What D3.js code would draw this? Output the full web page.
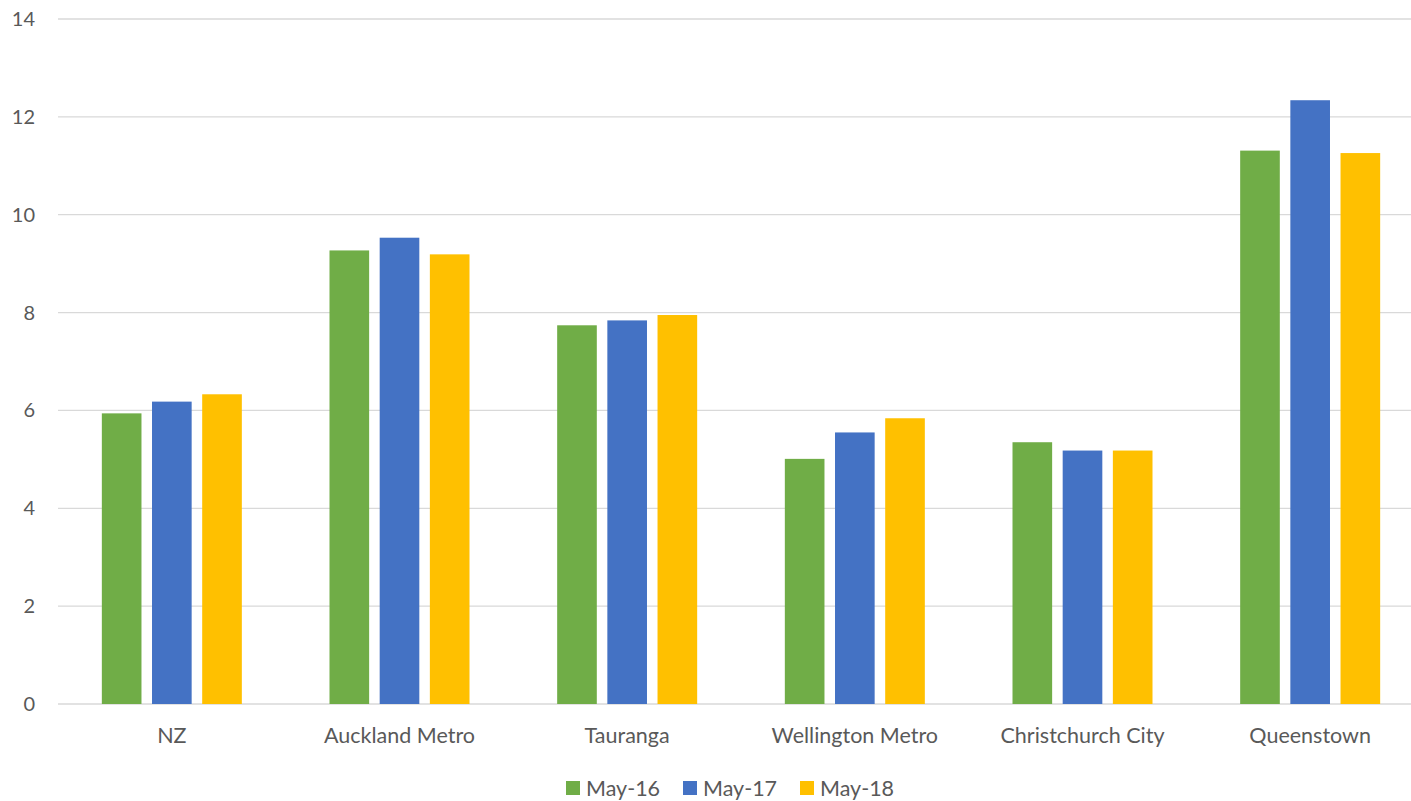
<!DOCTYPE html>
<html>
<head>
<meta charset="utf-8">
<script src="https://cdn.jsdelivr.net/npm/d3@7"></script>
<style>
    html, body { margin: 0; padding: 0; background: #fff; overflow: hidden; }
    svg { display: block; font-family: Lato, "Open Sans", sans-serif; }
</style>
</head>
<body>
<div id="chart"></div>
<script>
const categories = ['NZ', 'Auckland Metro', 'Tauranga', 'Wellington Metro', 'Christchurch City', 'Queenstown'];
const seriesNames = ['May-16', 'May-17', 'May-18'];
const may16 = [5.94, 9.27, 7.74, 5.01, 5.35, 11.31];
const may17 = [6.18, 9.53, 7.84, 5.55, 5.18, 12.34];
const may18 = [6.33, 9.19, 7.95, 5.84, 5.18, 11.26];
const yTicks = [0, 2, 4, 6, 8, 10, 12, 14];
const colors = ['#70ad47', '#4472c4', '#ffc000'];

const width = 1411, height = 801;
const margin = { top: 19, left: 58, bottom: 97 };
const plotRight = 1424;

const svg = d3.select('#chart')
    .append('svg')
    .attr('width', width)
    .attr('height', height);

const x = d3.scaleBand()
    .domain(categories)
    .range([margin.left, plotRight]);

const x1 = d3.scaleBand()
    .domain(seriesNames)
    .range([0, 140])
    .paddingInner(0.21);

const y = d3.scaleLinear()
    .domain([0, 14])
    .range([height - margin.bottom, margin.top]);

// gridlines
svg.append('g')
    .selectAll('line')
    .data(yTicks)
    .enter()
    .append('line')
    .attr('x1', margin.left)
    .attr('x2', plotRight)
    .attr('y1', (d) => y(d))
    .attr('y2', (d) => y(d))
    .attr('stroke', '#d9d9d9')
    .attr('stroke-width', 1.3);

// y labels
svg.append('g')
    .selectAll('text')
    .data(yTicks)
    .enter()
    .append('text')
    .attr('x', 35)
    .attr('y', (d) => y(d))
    .attr('dy', '0.35em')
    .attr('text-anchor', 'end')
    .attr('fill', '#595959')
    .style('font-size', '20px')
    .text((d) => d);

// bars
const rows = categories.map((c, i) => ({ cat: c, vals: [may16[i], may17[i], may18[i]] }));

const groups = svg.append('g')
    .selectAll('g')
    .data(rows)
    .enter()
    .append('g')
    .attr('transform', (d) => `translate(${x(d.cat) + x.bandwidth() / 2 - 70},0)`);

groups.selectAll('rect')
    .data((d) => d.vals.map((v, j) => ({ name: seriesNames[j], value: v, color: colors[j] })))
    .enter()
    .append('rect')
    .attr('x', (d) => x1(d.name))
    .attr('width', x1.bandwidth())
    .attr('y', (d) => y(d.value))
    .attr('height', (d) => y(0) - y(d.value))
    .attr('fill', (d) => d.color);

// category labels
svg.append('g')
    .selectAll('text')
    .data(categories)
    .enter()
    .append('text')
    .attr('x', (d) => x(d) + x.bandwidth() / 2)
    .attr('y', 735)
    .attr('dy', '0.35em')
    .attr('text-anchor', 'middle')
    .attr('fill', '#595959')
    .style('font-size', '21.5px')
    .text((d) => d);

// legend
const legendX = [566, 683, 800];
const legend = svg.append('g')
    .selectAll('g')
    .data(seriesNames)
    .enter()
    .append('g')
    .attr('transform', (d, i) => `translate(${legendX[i]},788)`);

legend.append('rect')
    .attr('x', 0)
    .attr('y', -7)
    .attr('width', 14)
    .attr('height', 14)
    .attr('fill', (d, i) => colors[i]);

legend.append('text')
    .attr('x', 20)
    .attr('y', 0)
    .attr('dy', '0.35em')
    .attr('fill', '#595959')
    .style('font-size', '21.5px')
    .text((d) => d);
</script>
</body>
</html>
